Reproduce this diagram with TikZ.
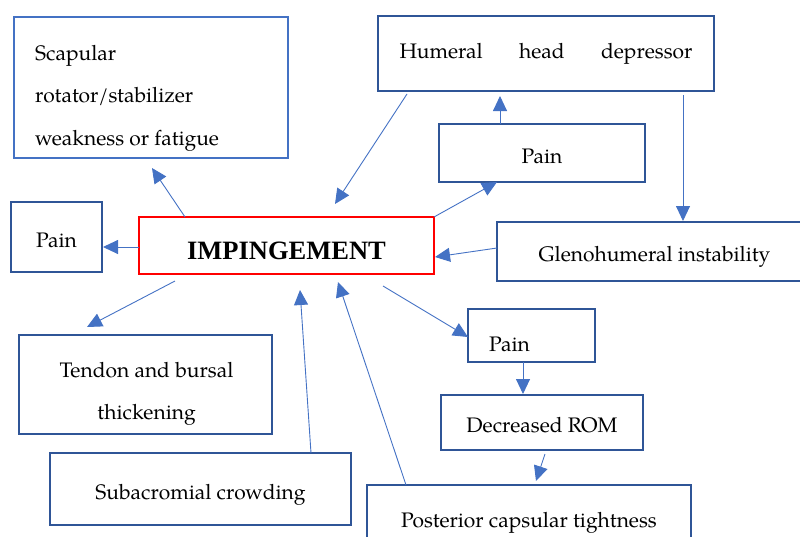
\documentclass[tikz,border=0pt]{standalone}
\usepackage{fontspec}
\setmainfont{TeX Gyre Pagella}
\newfontfamily\impfont{Liberation Serif}
\usetikzlibrary{arrows.meta}
\definecolor{boxblue}{HTML}{2F5597}
\definecolor{scapblue}{HTML}{4472C4}
\definecolor{arrowblue}{HTML}{4472C4}

\begin{document}
\begin{tikzpicture}[x=1pt, y=-1pt,
    every node/.style={font=\fontsize{21}{42.5}\selectfont},
    box/.style={draw=boxblue, line width=1.8pt, inner sep=0pt, outer sep=0pt, text height=24pt, text depth=4pt},
    txt/.style={inner sep=0pt},
    arr/.style={draw=arrowblue, line width=0.9pt, -{Triangle[length=15pt,width=14pt]}}]
    \useasboundingbox (0,0) rectangle (800,536);

    % boxes
    \node[box, draw=scapblue, minimum width=274pt, minimum height=141pt] (scap) at (151,87.5) {};
    \node[txt, anchor=north west, align=left] (scaptxt) at ([xshift=21pt,yshift=-28pt]scap.north west) {Scapular\\rotator/stabilizer\\weakness or fatigue};
    \node[box, text height=15pt, text depth=5pt, minimum width=336pt, minimum height=75pt] (hum) at (546,53.5) {\makebox[293pt][s]{Humeral head depressor}};
    \node[box, minimum width=206pt, minimum height=58pt] (paintop) at (542,153) {Pain};
    \node[box, minimum width=91pt, minimum height=70pt] (painleft) at (56.5,237) {Pain};
    \node[box, draw=red, line width=2pt, minimum width=295pt, minimum height=57pt,
          font=\impfont\bfseries\fontsize{26.5}{30}\selectfont, text height=27pt, text depth=0pt] (imp) at (286.5,245.5) {IMPINGEMENT};
    \node[box, minimum width=315pt, minimum height=59pt] (glen) at (654.5,251.5) {Glenohumeral instability};
    \node[box, minimum width=253pt, minimum height=99pt] (tend) at (145.5,384.5) {};
    \node[txt, anchor=north, align=center] (tendtxt) at ([xshift=1pt,yshift=-27pt]tend.north) {Tendon and bursal\\thickening};
    \node[box, minimum width=127pt, minimum height=53pt] (painlow) at (531.5,335.5) {};
    \node[txt, anchor=base west] (painlowtxt) at ([xshift=21pt,yshift=11pt]painlow.south west) {Pain};
    \node[box, minimum width=202pt, minimum height=55pt] (rom) at (542,422.5) {Decreased ROM};
    \node[box, minimum width=301pt, minimum height=72pt] (sub) at (200.5,489) {Subacromial crowding};
    \node[box, minimum width=324pt, minimum height=64pt] (post) at (529,517) {Posterior capsular tightness};

    % connectors
    \draw[arr] ([xshift=46pt]imp.north west) -- ([xshift=138pt,yshift=-10pt]scap.south west);
    \draw[arr] ([yshift=-1.5pt]imp.west) -- ([xshift=1pt,yshift=-10pt]painleft.east);
    \draw[arr] ([xshift=29pt,yshift=-3pt]hum.south west) -- ([xshift=196pt,yshift=13pt]imp.north west);
    \draw[arr] (imp.north east) -- ([xshift=58pt]paintop.south west);
    \draw[arr] ([xshift=61pt]paintop.north west) -- ([xshift=122pt,yshift=-5pt]hum.south west);
    \draw[arr] ([xshift=-31pt,yshift=-4pt]hum.south east) -- ([xshift=186pt,yshift=1pt]glen.north west);
    \draw[arr] ([yshift=3.5pt]glen.west) -- ([xshift=1pt,yshift=-11.5pt]imp.east);
    \draw[arr] ([xshift=36pt,yshift=-7pt]imp.south west) -- ([xshift=68pt,yshift=8pt]tend.north west);
    \draw[arr] ([xshift=244pt,yshift=-12pt]imp.south west) -- ([yshift=-1.5pt]painlow.west);
    \draw[arr] ([xshift=55pt]painlow.south west) -- ([xshift=82pt,yshift=1pt]rom.north west);
    \draw[arr] ([xshift=104pt,yshift=-4pt]rom.south west) -- ([xshift=169pt,yshift=4pt]post.north west);
    \draw[arr] ([xshift=261pt]sub.north west) -- ([xshift=161pt,yshift=-16pt]imp.south west);
    \draw[arr] ([xshift=39pt]post.north west) -- ([xshift=199pt,yshift=-8pt]imp.south west);
\end{tikzpicture}
\end{document}
